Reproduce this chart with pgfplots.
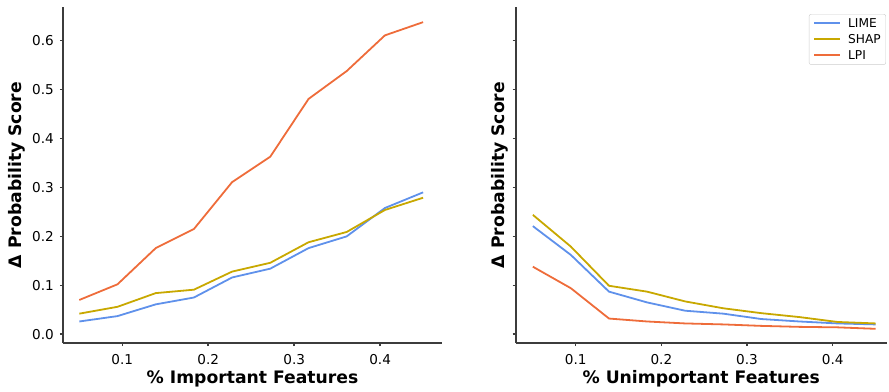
\documentclass[border=0pt]{standalone}
\usepackage{fontspec}
\setmainfont{DejaVu Sans}
\usepackage{pgfplots}
\pgfplotsset{compat=1.18}
\definecolor{limec}{RGB}{95,145,235}
\definecolor{shapc}{RGB}{200,168,0}
\definecolor{lpic}{RGB}{238,108,58}
\definecolor{spine}{RGB}{60,60,60}
\definecolor{legframe}{RGB}{204,204,204}
\newcommand{\labfont}{\bfseries\fontsize{17.2}{20}\selectfont}
\newcommand{\legrule}[1]{\textcolor{#1}{\rule[\dimexpr0.365em-0.9pt\relax]{26pt}{1.8pt}}\hspace{8pt}}
\tikzset{
  limeline/.style={draw=limec, line width=1.8pt, line join=round},
  shapline/.style={draw=shapc, line width=1.8pt, line join=round},
  lpiline/.style={draw=lpic, line width=1.8pt, line join=round},
}
\pgfplotsset{
  common/.style={
    scale only axis,
    height=336pt,
    axis x line*=bottom,
    axis y line*=left,
    axis line style={-, line width=2.4pt, color=spine},
    tick align=outside,
    major tick length=3pt,
    tick style={line width=1.5pt, color=spine},
    xtick={0.1,0.2,0.3,0.4},
    ytick={0,0.1,0.2,0.3,0.4,0.5,0.6},
    ymin=-0.018, ymax=0.669,
    /pgf/number format/assume math mode=true,
    /pgf/number format/fixed,
    /pgf/number format/fixed zerofill,
    /pgf/number format/precision=1,
    tick label style={font=\fontsize{13.6}{16}\selectfont},
    xticklabel style={anchor=north, inner sep=0pt, yshift=-8pt},
    yticklabel style={anchor=east, inner sep=0pt, xshift=-6pt},
  },
}
\begin{document}
\begin{tikzpicture}
\useasboundingbox (0,0) rectangle (889pt,391pt);
\begin{axis}[common,
  at={(63pt,48pt)}, anchor=south west,
  width=379pt,
  xmin=0.031, xmax=0.472,
  xlabel={\% Important Features},
  ylabel={Δ Probability Score},
  every axis x label/.style={at={(axis description cs:0.5,-0.122)}, anchor=base, font=\labfont},
  every axis y label/.style={at={(axis description cs:-0.1214,0.5)}, rotate=90, anchor=center, font=\labfont},
]
\addplot[limeline] coordinates {(0.05,0.026) (0.0944,0.037) (0.1389,0.061) (0.1833,0.075) (0.2278,0.116) (0.2722,0.134) (0.3167,0.176) (0.3611,0.200) (0.4056,0.258) (0.45,0.290)};
\addplot[shapline] coordinates {(0.05,0.042) (0.0944,0.056) (0.1389,0.084) (0.1833,0.091) (0.2278,0.128) (0.2722,0.146) (0.3167,0.188) (0.3611,0.209) (0.4056,0.254) (0.45,0.279)};
\addplot[lpiline] coordinates {(0.05,0.070) (0.0944,0.102) (0.1389,0.176) (0.1833,0.215) (0.2278,0.311) (0.2722,0.363) (0.3167,0.481) (0.3611,0.538) (0.4056,0.611) (0.45,0.638)};
\end{axis}
\begin{axis}[common,
  at={(515.7pt,48pt)}, anchor=south west,
  width=371pt,
  xmin=0.030, xmax=0.463,
  yticklabels={},
  xlabel={\% Unimportant Features},
  ylabel={Δ Probability Score},
  every axis x label/.style={at={(axis description cs:0.5,-0.122)}, anchor=base, font=\labfont},
  every axis y label/.style={at={(axis description cs:-0.0423,0.5)}, rotate=90, anchor=center, font=\labfont},
  legend style={at={(axis description cs:0.998,0.979)}, anchor=north east,
    draw=legframe, fill=white, rounded corners=2pt,
    font=\fontsize{12.2}{14}\selectfont, inner xsep=3pt, inner ysep=2pt,
    row sep=1.5pt},
  legend cell align=left,
]
\addlegendimage{empty legend}
\addlegendentry{\legrule{limec}LIME}
\addlegendimage{empty legend}
\addlegendentry{\legrule{shapc}SHAP}
\addlegendimage{empty legend}
\addlegendentry{\legrule{lpic}LPI}
\addplot[limeline, forget plot] coordinates {(0.05,0.221) (0.0944,0.162) (0.1389,0.087) (0.1833,0.065) (0.2278,0.048) (0.2722,0.042) (0.3167,0.031) (0.3611,0.026) (0.4056,0.022) (0.45,0.020)};
\addplot[shapline, forget plot] coordinates {(0.05,0.244) (0.0944,0.179) (0.1389,0.099) (0.1833,0.087) (0.2278,0.067) (0.2722,0.053) (0.3167,0.043) (0.3611,0.035) (0.4056,0.025) (0.45,0.022)};
\addplot[lpiline, forget plot] coordinates {(0.05,0.138) (0.0944,0.094) (0.1389,0.032) (0.1833,0.026) (0.2278,0.022) (0.2722,0.020) (0.3167,0.017) (0.3611,0.015) (0.4056,0.014) (0.45,0.011)};
\end{axis}
\end{tikzpicture}
\end{document}
